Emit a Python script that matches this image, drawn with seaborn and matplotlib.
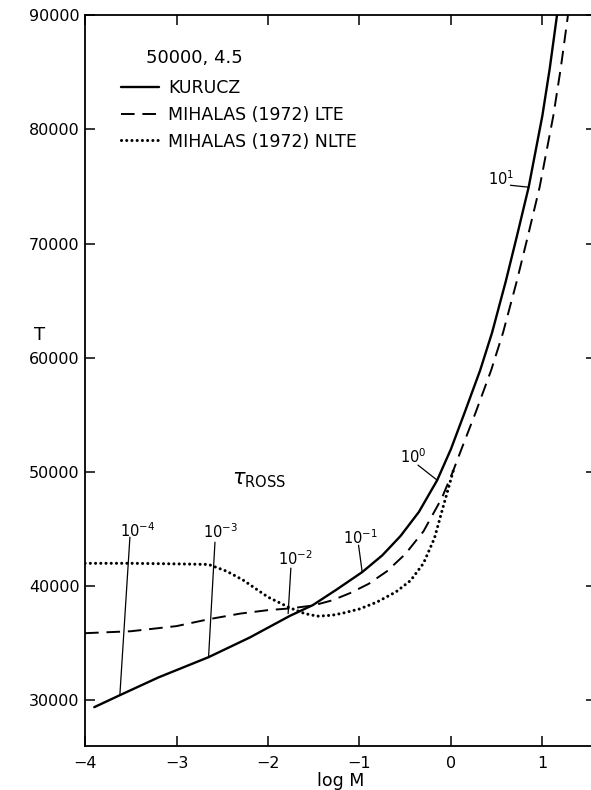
import seaborn as sns
import matplotlib.pyplot as plt

# Kurucz model
kurucz_logm = [-3.90, -3.62, -3.20, -2.65, -2.20, -1.76, -1.51, -1.25, -0.97, -0.75, -0.55,
               -0.35, -0.15, 0.00, 0.15, 0.32, 0.45, 0.60, 0.72, 0.85, 1.00, 1.08, 1.16, 1.20]
kurucz_t = [29400, 30450, 32000, 33780, 35500, 37400, 38340, 39700, 41230, 42700, 44400,
            46500, 49280, 52000, 55200, 58910, 62200, 66700, 70600, 74940, 81200, 85300, 90000, 92300]

# Mihalas (1972) LTE
lte_logm = [-4.00, -3.50, -3.00, -2.65, -2.30, -2.00, -1.76, -1.51, -1.30, -1.10, -0.90,
            -0.70, -0.50, -0.30, -0.10, 0.02, 0.12, 0.27, 0.44, 0.57, 0.72, 0.84, 0.97,
            1.12, 1.20, 1.28, 1.32]
lte_t = [35880, 36050, 36500, 37100, 37600, 37900, 38050, 38300, 38750, 39400, 40200,
         41300, 42800, 44800, 47700, 50000, 52100, 55200, 58910, 62200, 66700, 70600, 74940,
         81200, 85300, 90000, 92300]

# Mihalas (1972) NLTE
nlte_logm = [-4.00, -3.50, -3.00, -2.65, -2.45, -2.27, -2.00, -1.76, -1.60, -1.46, -1.30,
             -1.18, -1.00, -0.81, -0.60, -0.44, -0.30, -0.18, -0.09, 0.04]
nlte_t = [42000, 42000, 41950, 41900, 41300, 40520, 39040, 38100, 37600, 37370, 37450,
          37640, 38000, 38600, 39500, 40500, 42000, 44200, 46800, 50500]

# tau_Ross markers: label text, label position, leader line start/end
tau_labels = ['10$^{-4}$', '10$^{-3}$', '10$^{-2}$', '10$^{-1}$', '10$^{0}$', '10$^{1}$']
tau_text_x = [-3.43, -2.52, -1.70, -0.99, -0.41, 0.55]
tau_text_t = [44900, 44730, 42450, 44290, 51380, 75700]
tau_line_x0 = [-3.51, -2.58, -1.75, -1.01, -0.36, 0.65]
tau_line_t0 = [44290, 43850, 41580, 43590, 50600, 75110]
tau_line_x1 = [-3.62, -2.65, -1.78, -0.97, -0.15, 0.85]
tau_line_t1 = [30450, 33780, 37600, 41230, 49280, 74940]

sns.set_theme(style="ticks")
plt.rcParams['font.family'] = ['DejaVu Sans']
plt.rcParams['mathtext.default'] = 'regular'
for k in ['text.color', 'axes.labelcolor', 'xtick.color', 'ytick.color', 'axes.edgecolor']:
    plt.rcParams[k] = 'black'

fig = plt.figure(figsize=(5.91, 7.90), dpi=100)
ax = fig.add_axes([0.144, 0.0557, 0.865, 0.925])

sns.lineplot(x=kurucz_logm, y=kurucz_t, sort=False, color='black', linewidth=1.7,
             label='KURUCZ', ax=ax)
sns.lineplot(x=lte_logm, y=lte_t, sort=False, color='black', linewidth=1.4,
             linestyle=(0, (7, 4)), label='MIHALAS (1972) LTE', ax=ax)
sns.lineplot(x=nlte_logm, y=nlte_t, sort=False, color='black', linewidth=2.2,
             linestyle=(0, (0.01, 1.7)), dash_capstyle='round',
             label='MIHALAS (1972) NLTE', ax=ax)

for i in range(len(tau_labels)):
    ax.plot([tau_line_x0[i], tau_line_x1[i]], [tau_line_t0[i], tau_line_t1[i]],
            color='black', linewidth=0.9)
    ax.text(tau_text_x[i], tau_text_t[i], tau_labels[i], fontsize=10.5,
            ha='center', va='center')

ax.text(-2.1, 49300, r'$\mathit{\tau}_{\mathrm{ROSS}}$', fontsize=15, ha='center', va='center')

ax.set_xlim(-4, 1.59)
ax.set_ylim(26000, 90000)
ax.set_xticks([-4, -3, -2, -1, 0, 1])
ax.set_xticklabels(['\u22124', '\u22123', '\u22122', '\u22121', '0', '1'])
ax.set_yticks([30000, 40000, 50000, 60000, 70000, 80000, 90000])
ax.tick_params(direction='in', length=7, width=1.1, top=True, right=True,
               labelsize=11.5, pad=4)
ax.tick_params(axis='x', pad=7)
for s in ax.spines.values():
    s.set_linewidth(1.3)

ax.set_xlabel('log M', fontsize=12.5, labelpad=1)
ax.set_ylabel('T', fontsize=13, rotation=0)
ax.yaxis.label.set_va('center')
ax.yaxis.set_label_coords(-0.09, 0.562)

ax.text(0.119, 0.942, '50000, 4.5', transform=ax.transAxes, fontsize=13,
        ha='left', va='center')
ax.legend(loc='upper left', bbox_to_anchor=(0.057, 0.922), frameon=False,
          fontsize=12.5, handlelength=2.2, handletextpad=0.5, labelspacing=0.5,
          borderaxespad=0)

fig.savefig('out.png', dpi=100)
